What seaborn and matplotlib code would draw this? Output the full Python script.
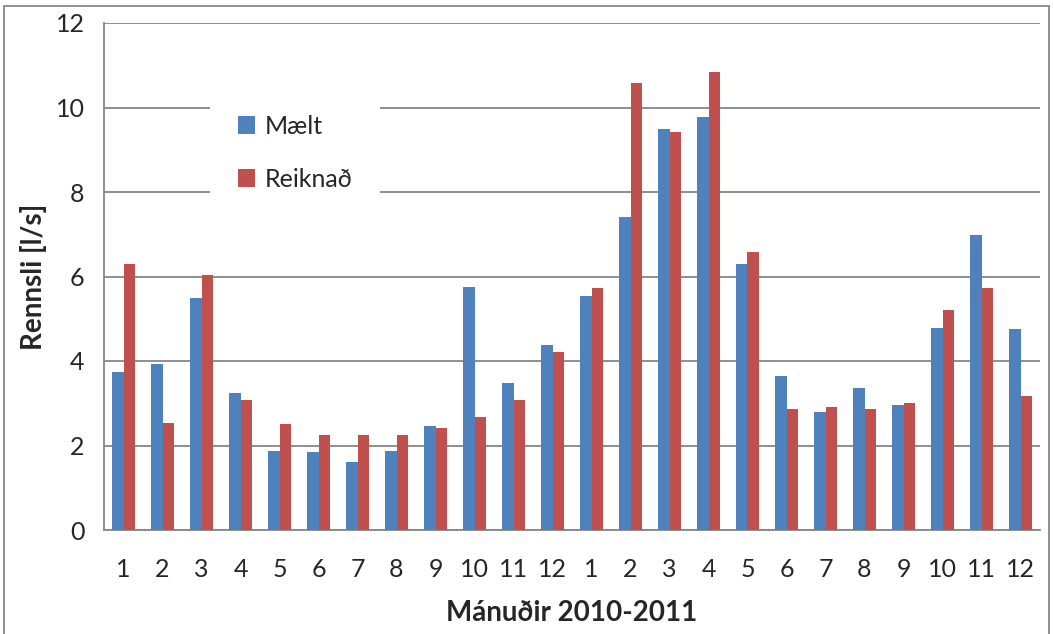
import pandas as pd
import numpy as np
from matplotlib import pyplot as plt
from matplotlib.patches import Rectangle
import seaborn as sns

months = ['1', '2', '3', '4', '5', '6', '7', '8', '9', '10', '11', '12',
          '1', '2', '3', '4', '5', '6', '7', '8', '9', '10', '11', '12']
maelt = [3.75, 3.92, 5.49, 3.25, 1.88, 1.84, 1.62, 1.88, 2.45, 5.75, 3.49, 4.37,
         5.55, 7.42, 9.49, 9.78, 6.29, 3.65, 2.80, 3.37, 2.96, 4.78, 6.99, 4.76]
reiknad = [6.29, 2.54, 6.03, 3.08, 2.50, 2.24, 2.24, 2.24, 2.41, 2.67, 3.08, 4.21,
           5.72, 10.58, 9.41, 10.83, 6.57, 2.86, 2.91, 2.86, 3.01, 5.21, 5.72, 3.16]
series = ['Mælt', 'Reiknað']
colors = ['#4F81BD', '#C0504D']

pos = list(range(len(months)))
data = pd.DataFrame({
    'pos': pos + pos,
    'val': maelt + reiknad,
    'series': [series[0]] * len(pos) + [series[1]] * len(pos),
})

sns.set_style('white')
plt.rcParams['font.family'] = ['Lato', 'DejaVu Sans']

fig = plt.figure(figsize=(10.53, 6.34), dpi=100)
ax = fig.add_axes([104 / 1053, 1 - 530 / 634, 936 / 1053, 507 / 634])

g = sns.barplot(data=data, x='pos', y='val', hue='series', palette=colors,
                width=0.6, ax=ax, saturation=1, edgecolor='none', zorder=3)

ax.set_ylim(0, 12)
ax.set_xlim(-0.5, len(months) - 0.5)
ax.set_yticks(np.arange(0, 13, 2))
ax.yaxis.grid(True, color='#868686', linewidth=1.3, zorder=0)
ax.set_axisbelow(True)

# category boundaries as ticks, labels at centers
ax.set_xticks(np.arange(-0.5, len(months), 1.0))
ax.set_xticklabels([])
ax.set_xticks(pos, minor=True)
ax.set_xticklabels(months, minor=True)
ax.tick_params(axis='x', which='major', length=12, width=1.3, color='#868686', direction='out')
ax.tick_params(axis='x', which='minor', length=0, pad=20, labelsize=18)
ax.tick_params(axis='y', length=6, width=1.3, color='#868686', direction='out', labelsize=18, pad=8)

for s in ['top', 'right']:
    ax.spines[s].set_visible(False)
for s in ['left', 'bottom']:
    ax.spines[s].set_color('#868686')
    ax.spines[s].set_linewidth(1.3)

ax.set_xlabel('Mánuðir 2010-2011', fontsize=20, fontweight='bold', labelpad=14)
ax.set_ylabel('Rennsli [l/s]', fontsize=20, fontweight='bold', labelpad=6)

handles, labels = ax.get_legend_handles_labels()
leg = ax.legend(handles, labels, loc='upper left', bbox_to_anchor=(0.1, 0.898),
                frameon=True, fontsize=18, handlelength=0.7, handleheight=0.7,
                labelspacing=1.2, borderpad=1.1, handletextpad=0.4)
leg.get_frame().set_facecolor('white')
leg.get_frame().set_edgecolor('none')
leg.get_frame().set_alpha(1)
leg.set_zorder(5)

fig.patches.append(Rectangle((4 / 1053, -0.02), 1045 / 1053, 1.02 - 6 / 634,
                             transform=fig.transFigure, fill=False,
                             edgecolor='#868686', linewidth=1.3))

plt.savefig('out.png', dpi=100)
